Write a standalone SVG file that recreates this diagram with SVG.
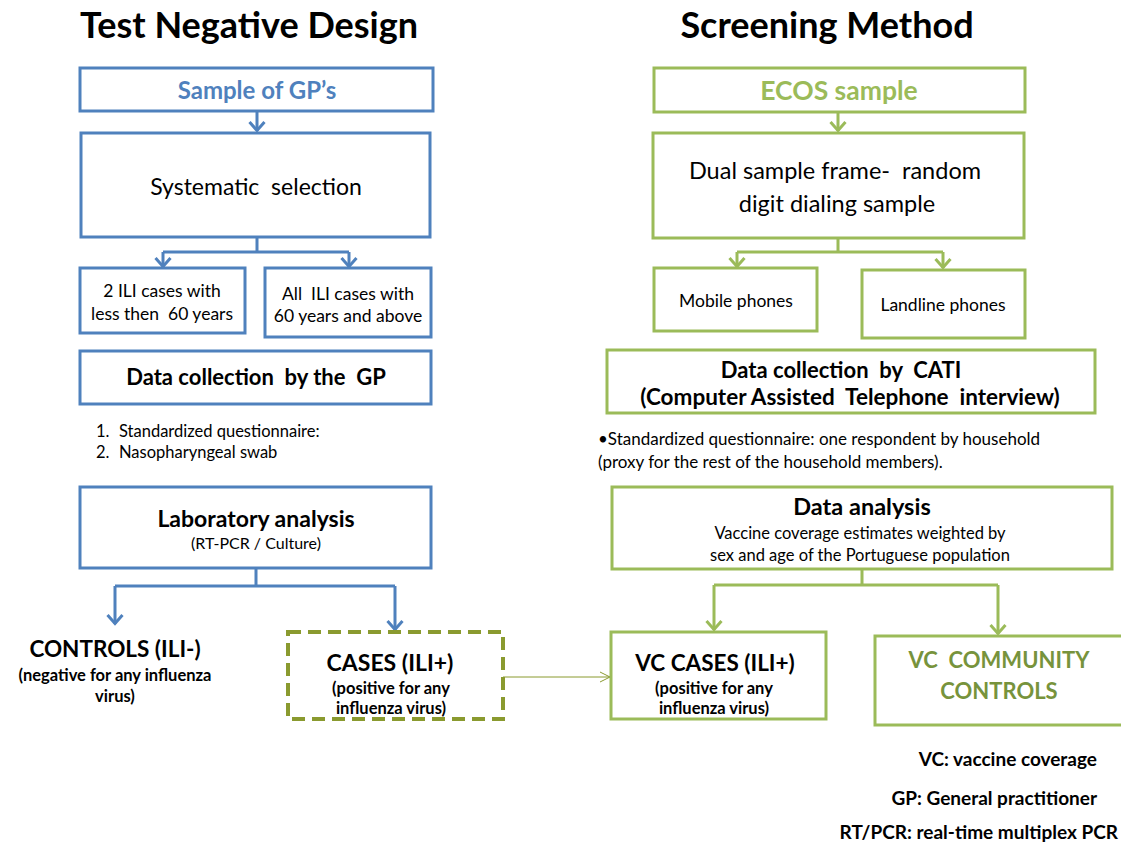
<svg xmlns="http://www.w3.org/2000/svg" width="1121" height="845" viewBox="0 0 1121 845">
<defs>
<style>
text{font-family:Lato,"Liberation Sans",sans-serif;fill:#000;white-space:pre}
.b{font-weight:bold}
.c{text-anchor:middle}
.blue{fill:none;stroke:#4F81BD;stroke-width:3}
.green{fill:none;stroke:#9BBB59;stroke-width:3}
.bl{fill:none;stroke:#4F81BD;stroke-width:3}
.gl{fill:none;stroke:#9BBB59;stroke-width:3}
.dash{fill:none;stroke:#8A9A2F;stroke-width:4;stroke-dasharray:13 7}
</style>
<marker id="ab" viewBox="0 0 12 18" refX="10" refY="9" markerWidth="12" markerHeight="18" markerUnits="userSpaceOnUse" orient="auto">
<path d="M1,1.5 L9.5,9 L1,16.5" fill="none" stroke="#4F81BD" stroke-width="3"/>
</marker>
<marker id="ag" viewBox="0 0 12 18" refX="10" refY="9" markerWidth="12" markerHeight="18" markerUnits="userSpaceOnUse" orient="auto">
<path d="M1,1.5 L9.5,9 L1,16.5" fill="none" stroke="#9BBB59" stroke-width="3"/>
</marker>
<marker id="ao" viewBox="0 0 12 12" refX="11" refY="6" markerWidth="12" markerHeight="12" markerUnits="userSpaceOnUse" orient="auto">
<path d="M1,1 L11,6 L1,11" fill="none" stroke="#8A9A2F" stroke-width="1"/>
</marker>
</defs>
<rect width="1121" height="845" fill="#fff"/>

<g id="titles">
<text class="b c" x="249" y="38" font-size="36">Test Negative Design</text>
<text class="b c" x="827" y="38" font-size="36">Screening Method</text>
</g>

<g id="connectors">
<line class="bl" x1="257" y1="111" x2="257" y2="131" marker-end="url(#ab)"/>
<path class="bl" d="M257,237 V252 M163,252 H349"/>
<line class="bl" x1="163" y1="252" x2="163" y2="267" marker-end="url(#ab)"/>
<line class="bl" x1="349" y1="252" x2="349" y2="267" marker-end="url(#ab)"/>
<path class="bl" d="M256,568 V586 M115,586 H395"/>
<line class="bl" x1="115" y1="586" x2="115" y2="624" marker-end="url(#ab)"/>
<line class="bl" x1="395" y1="586" x2="395" y2="630" marker-end="url(#ab)"/>
<line class="gl" x1="838" y1="112" x2="838" y2="131" marker-end="url(#ag)"/>
<path class="gl" d="M838,238 V252 M737,252 H943"/>
<line class="gl" x1="737" y1="252" x2="737" y2="267" marker-end="url(#ag)"/>
<line class="gl" x1="943" y1="252" x2="943" y2="268" marker-end="url(#ag)"/>
<path class="gl" d="M862,569 V585 M714,585 H998"/>
<line class="gl" x1="714" y1="585" x2="714" y2="630" marker-end="url(#ag)"/>
<line class="gl" x1="998" y1="585" x2="998" y2="634" marker-end="url(#ag)"/>
<line x1="503" y1="677" x2="610" y2="677" stroke="#8A9A2F" stroke-width="1" marker-end="url(#ao)"/>
</g>

<g id="sample-gp">
<rect class="blue" x="80" y="68" width="353" height="43"/>
<text class="b c" x="257" y="99" font-size="24" style="fill:#4F81BD">Sample of GP’s</text>
</g>
<g id="systematic">
<rect class="blue" x="81" y="133" width="349" height="104"/>
<text class="c" x="256" y="195" font-size="23">Systematic  selection</text>
</g>
<g id="ili-under60">
<rect class="blue" x="80" y="268" width="165" height="65"/>
<text class="c" x="162" y="297" font-size="17.5">2 ILI cases with</text>
<text class="c" x="162" y="320" font-size="17.5">less then  60 years</text>
</g>
<g id="ili-over60">
<rect class="blue" x="265" y="268" width="166" height="69"/>
<text class="c" x="348" y="300" font-size="17.5">All  ILI cases with</text>
<text class="c" x="348" y="322" font-size="17.5">60 years and above</text>
</g>
<g id="data-gp">
<rect class="blue" x="80" y="351" width="351" height="53"/>
<text class="b c" x="256" y="385" font-size="22">Data collection  by the  GP</text>
</g>
<g id="gp-list">
<text x="96" y="437" font-size="16.5">1.</text>
<text x="119" y="437" font-size="16.5">Standardized questionnaire:</text>
<text x="96" y="458" font-size="16.5">2.</text>
<text x="119" y="458" font-size="16.5">Nasopharyngeal swab</text>
</g>
<g id="lab">
<rect class="blue" x="80" y="487" width="351" height="81"/>
<text class="b c" x="256" y="527" font-size="23">Laboratory analysis</text>
<text class="c" x="256" y="549" font-size="16">(RT-PCR / Culture)</text>
</g>
<g id="controls">
<text class="b c" x="115" y="657" font-size="22.5">CONTROLS (ILI-)</text>
<text class="b c" x="115" y="681" font-size="16.5">(negative for any influenza</text>
<text class="b c" x="115" y="702" font-size="16.5">virus)</text>
</g>
<g id="cases">
<rect class="dash" x="288" y="632" width="215" height="87"/>
<text class="b c" x="390" y="671" font-size="23">CASES (ILI+)</text>
<text class="b c" x="391" y="694" font-size="16.5">(positive for any</text>
<text class="b c" x="391" y="714" font-size="16.5">influenza virus)</text>
</g>

<g id="ecos">
<rect class="green" x="654" y="68" width="371" height="44"/>
<text class="b c" x="839" y="100" font-size="26.5" style="fill:#9BBB59">ECOS sample</text>
</g>
<g id="dual">
<rect class="green" x="653" y="133" width="371" height="105"/>
<text class="c" x="835" y="179" font-size="23.5">Dual sample frame-  random</text>
<text class="c" x="837" y="212" font-size="23.5">digit dialing sample</text>
</g>
<g id="mobile">
<rect class="green" x="654" y="268" width="163" height="63"/>
<text class="c" x="736" y="307" font-size="17.5">Mobile phones</text>
</g>
<g id="landline">
<rect class="green" x="862" y="270" width="163" height="68"/>
<text class="c" x="943" y="311" font-size="17.5">Landline phones</text>
</g>
<g id="cati">
<rect class="green" x="607" y="350" width="488" height="63"/>
<text class="b c" x="841" y="378" font-size="22">Data collection  by  CATI</text>
<text class="b c" x="850" y="405" font-size="22.5">(Computer Assisted  Telephone  interview)</text>
</g>
<g id="cati-note">
<text x="598" y="445" font-size="17">•Standardized questionnaire: one respondent by household</text>
<text x="598" y="468" font-size="17">(proxy for the rest of the household members).</text>
</g>
<g id="analysis">
<rect class="green" x="612" y="487" width="500" height="82"/>
<text class="b c" x="862" y="515" font-size="23.5">Data analysis</text>
<text class="c" x="860" y="539" font-size="16.5">Vaccine coverage estimates weighted by</text>
<text class="c" x="860" y="561" font-size="16.5">sex and age of the Portuguese population</text>
</g>
<g id="vc-cases">
<rect class="green" x="611" y="632" width="215" height="87"/>
<text class="b c" x="715" y="671" font-size="22.5">VC CASES (ILI+)</text>
<text class="b c" x="714" y="694" font-size="16.5">(positive for any</text>
<text class="b c" x="714" y="714" font-size="16.5">influenza virus)</text>
</g>
<g id="vc-controls">
<rect class="green" x="875" y="636" width="250" height="89"/>
<text class="b c" x="999" y="668" font-size="22" style="fill:#77933C">VC  COMMUNITY</text>
<text class="b c" x="999" y="699" font-size="22" style="fill:#77933C">CONTROLS</text>
</g>
<g id="legend">
<text class="b" x="1097" y="766" font-size="19" text-anchor="end">VC: vaccine coverage</text>
<text class="b" x="1097" y="805" font-size="19" text-anchor="end">GP: General practitioner</text>
<text class="b" x="1118" y="839" font-size="19" text-anchor="end">RT/PCR: real-time multiplex PCR</text>
</g>
</svg>
